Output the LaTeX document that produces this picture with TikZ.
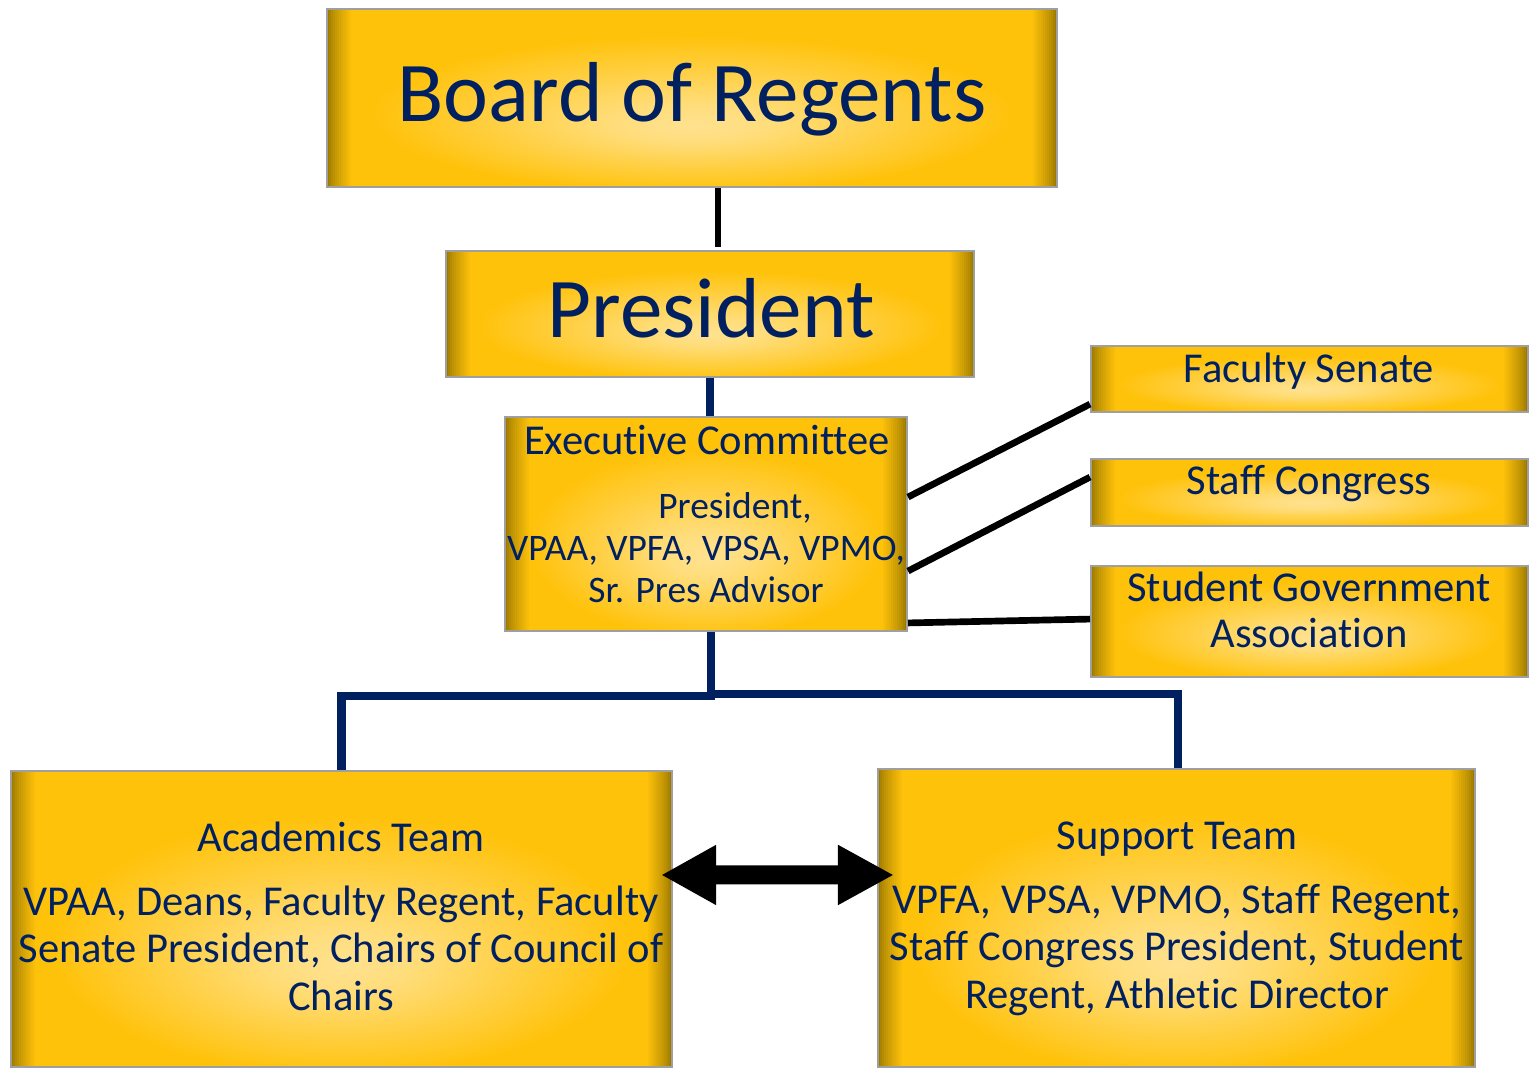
\documentclass[tikz,border=0pt]{standalone}
\usepackage{fontspec}
\setmainfont{Carlito}[Ligatures=CommonOff]
\usetikzlibrary{positioning, calc, arrows.meta}

\definecolor{navy}{HTML}{002060}
\definecolor{gold}{HTML}{FFC20A}
\definecolor{golddark}{HTML}{9C7A00}
\definecolor{goldlight}{HTML}{FFE290}

% light spot a little below the middle, gold towards the rim
\pgfdeclareradialshading{goldglow}{\pgfpoint{0bp}{-8bp}}{color(0bp)=(goldlight); color(5bp)=(goldlight!85!gold); color(22bp)=(gold); color(50bp)=(gold)}

\tikzset{
  goldbox/.style={draw=gray!75, line width=0.5pt, shading=goldglow, inner sep=0pt,
    path picture={
      % darker rims at the left and right ends, in thin steps
      \foreach \i [evaluate=\i as \p using {100*(\i/12)^0.8}] in {0,...,12} {
        \fill[gold!\p!golddark]
          ([xshift={\i*0.02cm}]path picture bounding box.south west)
          rectangle ([xshift={(\i+1)*0.02cm}]path picture bounding box.north west);
        \fill[gold!\p!golddark]
          ([xshift={-\i*0.02cm}]path picture bounding box.south east)
          rectangle ([xshift={-(\i+1)*0.02cm}]path picture bounding box.north east);
      }
    }},
  bigtext/.style={font=\fontsize{24.2}{29}\selectfont, text=navy, inner sep=0pt, anchor=base},
  midtext/.style={font=\fontsize{12.1}{14}\selectfont, text=navy, inner sep=0pt, anchor=base},
  smalltext/.style={font=\fontsize{10.65}{11.95}\selectfont, text=navy, inner sep=0pt, anchor=base, align=center},
  sidetext/.style={font=\fontsize{12.1}{13.1}\selectfont, text=navy, inner sep=0pt, anchor=base, align=center},
  teamtext/.style={font=\fontsize{12.1}{13.4}\selectfont, text=navy, inner sep=0pt, anchor=base, align=center},
  navyline/.style={draw=navy, line width=2.3pt},
  blackline/.style={draw=black, line width=1.9pt},
  bigarrow/.style={draw=black, line width=5.4pt, {Triangle[width=0.56cm, length=0.55cm]}-{Triangle[width=0.56cm, length=0.56cm]}}
}

\begin{document}
\begin{tikzpicture}[x=0.01cm, y=-0.01cm]
  \useasboundingbox (0,0) rectangle (1531,1068);

  % boxes
  \node[goldbox, minimum width=7.30cm, minimum height=1.78cm] (board) at (692,98) {};
  \node[goldbox, minimum width=5.28cm, minimum height=1.26cm] (pres) at (710,314) {};
  \node[goldbox, minimum width=4.02cm, minimum height=2.14cm] (exec) at (706,524) {};
  \node[goldbox, minimum width=4.37cm, minimum height=0.66cm] (fac) at (1309.5,379) {};
  \node[goldbox, minimum width=4.37cm, minimum height=0.67cm] (staff) at (1309.5,492.5) {};
  \node[goldbox, minimum width=4.37cm, minimum height=1.11cm] (sga) at (1309.5,621.5) {};
  \node[goldbox, minimum width=6.61cm, minimum height=2.96cm] (acad) at (341.5,919) {};
  \node[goldbox, minimum width=5.97cm, minimum height=2.98cm] (supp) at (1176.5,918) {};

  % texts (multi-line ones sit on their last baseline)
  \node[bigtext] (boardtxt) at (692,122) {Board of Regents};
  \node[bigtext] (prestxt) at (711,338) {President};
  \node[midtext] (exectitle) at (707,455) {Executive Committee};
  \node[smalltext] (execbody) at (706,603) {\hspace*{0.58cm}President,\\VPAA, VPFA, VPSA, VPMO,\\Sr. Pres Advisor};
  \node[sidetext] (factxt) at (1309,383) {Faculty Senate};
  \node[sidetext] (stafftxt) at (1309,495) {Staff Congress};
  \node[sidetext] (sgatxt) at (1309,648) {Student Government\\Association};
  \node[teamtext] (acadtitle) at (341,852) {Academics Team};
  \node[teamtext] (acadbody) at (341,1010) {VPAA, Deans, Faculty Regent, Faculty\\Senate President, Chairs of Council of\\Chairs};
  \node[teamtext] (supptitle) at (1177,850) {Support Team};
  \node[teamtext] (suppbody) at (1177,1008) {VPFA, VPSA, VPMO, Staff Regent,\\Staff Congress President, Student\\Regent, Athletic Director};

  % connectors
  \draw[blackline] ($(board.south)+(26,0)$) -- ($(pres.north)+(8,-3)$);
  \draw[navyline] (pres.south) -- (pres.south |- exec.north);
  \draw[navyline] ($(exec.south)+(5,0)$) |- ($(acad.north)+(0,-74)$) -- (acad.north);
  \draw[navyline] ($(exec.south)+(5,0)$) |- ($(supp.north)+(1.5,-74)$) -- ($(supp.north)+(1.5,0)$);
  \draw[blackline] ($(exec.north east)+(0,81)$) -- ($(fac.north west)+(0,59)$);
  \draw[blackline] ($(exec.north east)+(0,155)$) -- ($(staff.north west)+(0,19)$);
  \draw[blackline] ($(exec.south east)+(0,-9)$) -- ($(sga.north west)+(0,54)$);
  \draw[bigarrow] ([xshift=-0.12cm, yshift=0.44cm]acad.east) -- ([xshift=0.17cm, yshift=0.43cm]supp.west);
\end{tikzpicture}
\end{document}
